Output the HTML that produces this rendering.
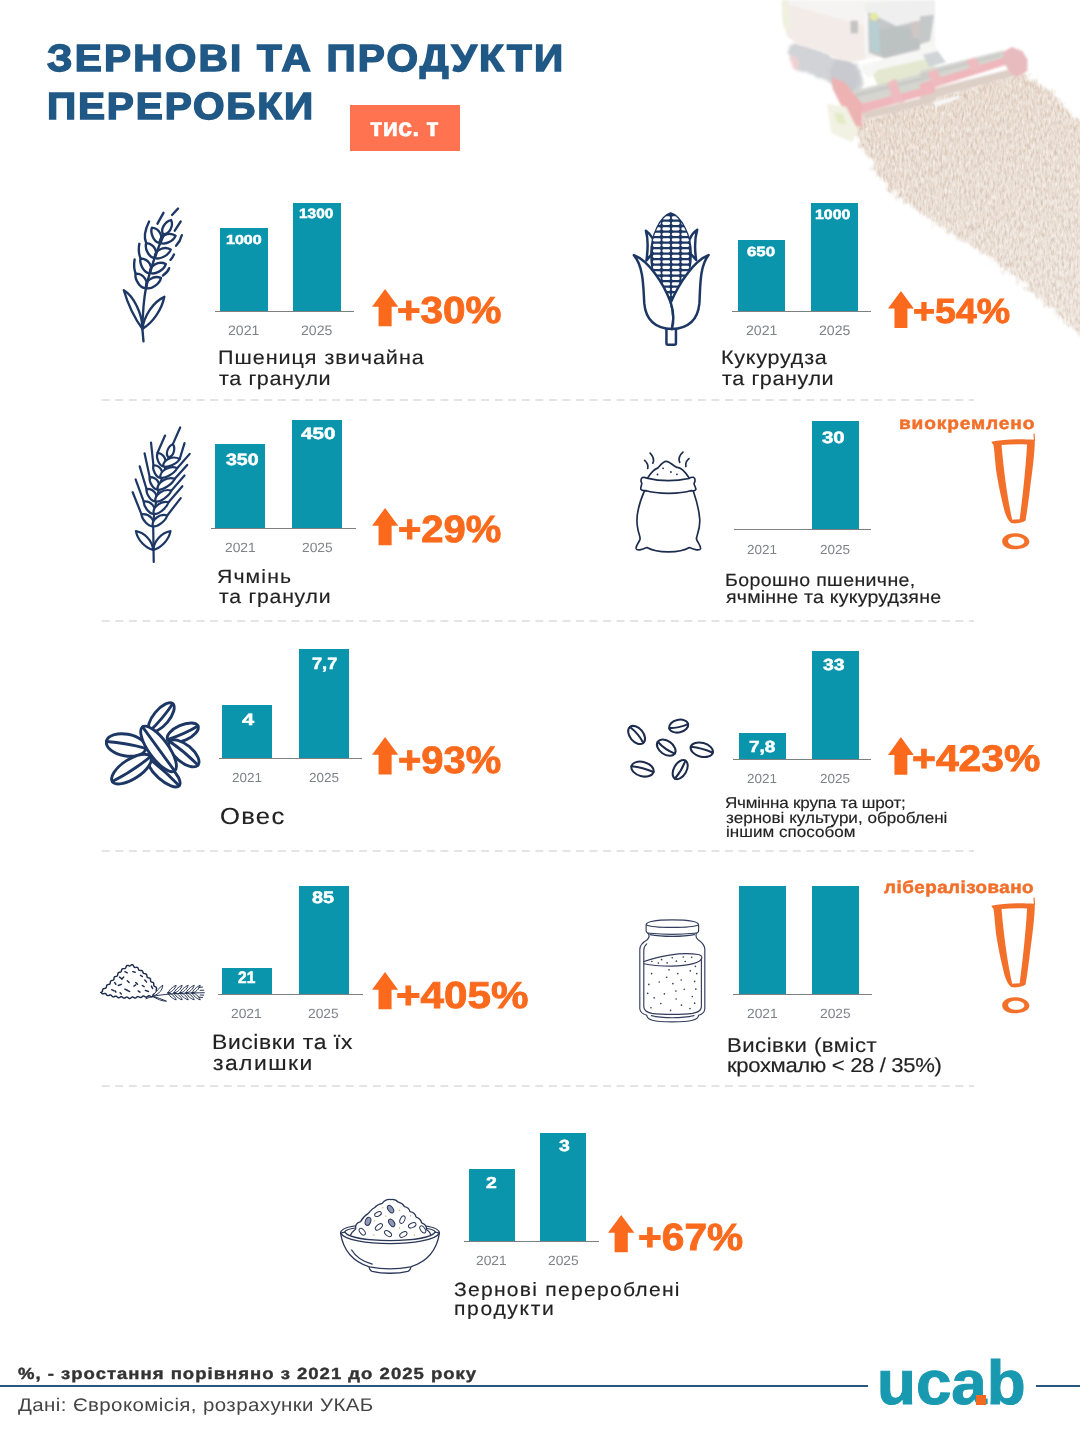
<!DOCTYPE html>
<html lang="uk">
<head>
<meta charset="utf-8">
<title>Зернові та продукти переробки</title>
<meta name="viewport" content="width=1080">
<style>
*{box-sizing:border-box;margin:0;padding:0}
html,body{width:1080px;height:1435px;background:#fff;overflow:hidden}
body{font-family:"Liberation Sans",sans-serif;position:relative;color:#222222}
#page{position:relative;width:1080px;height:1435px;overflow:hidden;background:#fff}
header,main,footer,section,h1,.plot,.growth,.label,aside{position:static;display:block;font-weight:normal;font-size:0}
.t{position:absolute;display:block;white-space:nowrap;line-height:1;transform-origin:0 0;font-weight:400;text-rendering:geometricPrecision}
svg{position:absolute;overflow:visible}
.h1{color:#205886;font-weight:700}
.badge{position:absolute;background:#ff7350}
.badge-t{color:#fff;font-weight:700}
.bar{position:absolute;background:#0b95ac}
.axis{position:absolute;height:1px;background:#7f7f7f}
.val{color:#fff;font-weight:700}
.yr{color:#7f8388}
.lbl{color:#222222}
.pct{color:#fb6a1c;font-weight:700}
.note-t{color:#f26f2a;font-weight:700}
.foot1{color:#333;font-weight:700}
.foot2{color:#444}
.rule{position:absolute;background:#2b5680}
.logo-t{color:#1899b0;font-weight:700}
.logo-dot{position:absolute;display:block;background:#f26a21}
</style>
</head>
<body>
<div id="page">
<svg class="photo" style="left:0;top:0" width="1120" height="400" viewBox="0 0 1120 400" role="img" aria-label="комбайн у полі"><defs><filter id="field" x="-5%" y="-5%" width="110%" height="110%" color-interpolation-filters="sRGB"><feTurbulence type="fractalNoise" baseFrequency="0.16" numOctaves="3" seed="3" result="n"/><feDisplacementMap in="SourceGraphic" in2="n" scale="16" xChannelSelector="R" yChannelSelector="G" result="d"/><feGaussianBlur in="d" stdDeviation="1.8" result="base"/><feTurbulence type="fractalNoise" baseFrequency="0.42 0.16" numOctaves="2" seed="8" result="t1"/><feColorMatrix in="t1" type="matrix" values="0 0 0 0 0.78  0 0 0 0 0.70  0 0 0 0 0.63  1.4 0 0 0 -0.56" result="dark0"/><feGaussianBlur in="dark0" stdDeviation="0.5" result="dark"/><feTurbulence type="fractalNoise" baseFrequency="0.45 0.18" numOctaves="2" seed="21" result="t2"/><feColorMatrix in="t2" type="matrix" values="0 0 0 0 1  0 0 0 0 0.99  0 0 0 0 0.97  0 1.3 0 0 -0.52" result="light0"/><feGaussianBlur in="light0" stdDeviation="0.5" result="light"/><feMerge result="tex"><feMergeNode in="base"/><feMergeNode in="dark"/><feMergeNode in="light"/></feMerge><feComposite in="tex" in2="base" operator="in"/></filter><filter id="soft" x="-5%" y="-5%" width="110%" height="110%"><feGaussianBlur stdDeviation="0.9"/></filter><filter id="soft2" x="-10%" y="-10%" width="120%" height="120%"><feTurbulence type="fractalNoise" baseFrequency="0.2" numOctaves="1" seed="5" result="n"/><feDisplacementMap in="SourceGraphic" in2="n" scale="5" xChannelSelector="R" yChannelSelector="G" result="d"/><feGaussianBlur in="d" stdDeviation="1.6"/></filter><linearGradient id="fieldg" gradientUnits="userSpaceOnUse" x1="930" y1="80" x2="1010" y2="330"><stop offset="0" stop-color="#e8dacd"/><stop offset="0.4" stop-color="#ebdfd5"/><stop offset="1" stop-color="#eee5de"/></linearGradient></defs><g filter="url(#field)"><polygon fill="url(#fieldg)" points="852,122 880,113 920,100 960,90 1009,74 1028,73 1045,88 1062,103 1080,120 1110,148 1110,362 1080,336 1043,303 990,258 931,222 886,187 860,146"/></g><g filter="url(#soft2)"><polygon fill="#d1d3d7" points="788.3,45.9 798.7,42.2 823.9,51.9 838.7,59.3 858.0,63.7 863.9,83.0 858.0,96.3 841.7,94.8 831.3,83.0 819.4,77.0 795.7,69.6 789.1,59.3"/><ellipse fill="#c8cacf" cx="844.6" cy="76.3" rx="14.1" ry="18.5" transform="rotate(-15 844.6 76.3)"/><polygon fill="#f0d0d0" points="789.8,54.8 797.2,57.8 798.7,69.6 792.8,68.1"/></g><g filter="url(#soft)"><polygon fill="#f5f4f3" points="782.4,0.0 935.0,0.0 935.0,48.9 863.9,59.3 863.9,25.2 791.3,5.9 783.9,8.9"/><polygon fill="#f3ebe7" points="783.1,5.9 791.3,5.2 863.9,25.2 865.4,59.3 852.0,62.2 837.2,59.3 823.9,51.9 797.2,44.4 786.9,35.6 783.9,20.7"/><polygon fill="#f0f0e0" points="781.7,0.0 788.3,0.0 791.3,22.2 786.9,34.1 782.4,22.2"/><polygon fill="#efefef" points="863.9,3.0 935.0,0.0 935.0,14.1 932.0,16.3 898.0,25.5 865.4,11.9"/><polygon fill="#c4c8c8" points="867.6,11.9 896.5,25.9 924.6,19.3 923.1,48.9 884.6,58.5 868.3,52.6"/><polygon fill="#bcc1c1" points="878.7,29.6 898.0,26.7 917.2,29.6 920.2,47.4 884.6,57.8 879.4,51.9"/><polygon fill="#cfc7c6" points="910.6,22.2 924.6,20.0 923.9,37.0 912.8,38.5"/><polygon fill="#b7cfd2" points="869.8,20.7 878.7,22.2 880.5,51.9 871.3,51.1"/><ellipse fill="#e4e9a6" cx="874.0" cy="16.6" rx="4.4" ry="4.0"/><polygon fill="#f6f6f6" points="863.9,11.9 868.0,11.9 868.6,53.3 864.8,53.3"/><polygon fill="#c4c4c4" points="850.6,20.7 858.0,20.7 858.0,33.3 850.6,33.3"/><polygon fill="#c4c8c8" points="920.0,16.3 934.1,14.8 928.9,48.9 920.0,51.1"/><polygon fill="#efefef" points="920.0,3.0 931.9,4.4 934.8,14.1 920.0,16.3"/><polygon fill="#e4e8d0" points="871.3,71.1 923.1,57.8 935.0,57.0 935.0,71.1 878.7,87.4"/><polygon fill="#e4e8d0" points="920.0,59.3 928.9,57.8 937.8,71.1 920.0,74.1"/><polygon fill="#f6f6f4" points="860.2,65.2 923.1,49.6 935.0,45.9 935.0,57.0 878.7,69.6 869.8,77.8 863.9,74.1"/><polygon fill="#f6f6f4" points="920.0,44.4 933.3,40.0 937.8,50.4 920.0,57.0"/><polygon fill="#d0d4d7" points="923.0,54.8 937.8,51.1 945.9,62.2 928.9,66.7"/><polygon fill="#d5d6d0" points="849.1,91.9 935.0,70.4 935.0,85.2 858.0,104.4"/><polygon fill="#d5d6d0" points="920.0,71.1 1003.0,50.4 1008.9,59.3 920.0,84.4"/><polygon fill="#c8c9c5" points="852.0,94.8 935.0,74.1 935.0,77.0 853.5,97.8"/><polygon fill="#c8c9c5" points="920.0,74.1 1000.0,54.1 1000.7,56.3 920.0,77.0"/><polygon fill="#dccfc6" points="862.4,112.6 935.0,94.8 935.0,102.2 863.9,120.0"/><polygon fill="#dccfc6" points="920.0,91.9 1014.8,68.1 1016.3,75.6 920.0,102.2"/><polygon fill="#efb6bb" points="858.0,104.4 935.0,84.7 935.0,92.6 861.7,112.9"/><polygon fill="#efb6bb" points="920.0,83.7 1008.9,56.0 1011.9,63.0 920.0,92.1"/><polygon fill="#edb3b3" points="831.3,77.0 844.6,82.2 862.4,103.7 862.4,127.4 852.0,124.4 840.2,103.7 832.8,88.9"/><polygon fill="#e8bbbf" points="1003.0,51.9 1011.9,47.1 1022.2,51.1 1027.4,59.3 1027.4,71.1 1016.3,77.8 1008.9,71.1 1003.7,62.2"/><polygon fill="#eebcc0" points="887.6,83.0 895.7,78.5 903.9,102.2 893.5,103.7"/><polygon fill="#eebcc0" points="927.4,72.6 936.3,68.9 945.2,83.0 933.3,85.9"/><polygon fill="#eebcc0" points="965.9,60.7 974.8,57.5 983.7,68.9 971.9,71.1"/><polygon fill="#f2f2e4" points="826.9,103.7 846.1,106.7 858.0,130.4 852.0,142.2 831.3,133.3"/><polygon fill="#e3ebc6" points="834.3,112.6 843.1,114.1 846.1,124.4 837.2,123.0"/><polygon fill="#f8f8f8" points="931.9,102.2 958.5,95.6 959.3,98.5 936.3,106.7"/></g></svg>
<header>
<h1>
<span class="t h1" style="left:46.64px;top:41px;font-size:37.9px;transform:scaleX(1.0700);letter-spacing:2.093px;-webkit-text-stroke-width:1.5px">ЗЕРНОВІ ТА ПРОДУКТИ</span>
<span class="t h1" style="left:46.71px;top:89px;font-size:37.9px;transform:scaleX(1.0700);letter-spacing:1.720px;-webkit-text-stroke-width:1.5px">ПЕРЕРОБКИ</span>
</h1>
<div class="badge" style="left:350px;top:105.3px;width:110.3px;height:46.1px">
<span class="t badge-t" style="left:19.61px;top:11px;font-size:25.6px;transform:scaleX(0.9926);-webkit-text-stroke-width:0.5px">тис. т</span>
</div>
</header>
<main>
<section class="chart" id="wheat">
<svg class="icon" style="left:110px;top:195px" width="100" height="155" viewBox="0 0 926 1435" role="img" aria-label="пшениця"><g fill="none" stroke="#1d3765" stroke-width="22" stroke-linecap="round" stroke-linejoin="round"><path d="M310,1355 L300,1240 C303,1080 315,950 335,850 C370,690 430,520 500,365"/><path d="M300,1240 C235,1150 165,1010 128,882 C215,935 300,1090 300,1240Z"/><path d="M300,1240 C315,1120 400,990 503,943 C480,1060 400,1180 300,1240Z"/><path fill="none" d="M328.0,862.0 C365.6,807.1 311.0,726.7 237.0,728.0 C226.7,784.0 281.3,864.4 328.0,862.0Z"/><path fill="none" d="M366.0,722.0 C406.3,669.3 356.5,588.9 283.0,588.0 C269.7,642.6 319.5,723.0 366.0,722.0Z"/><path fill="none" d="M410.0,582.0 C453.1,531.7 408.1,449.5 335.0,445.0 C318.7,498.5 363.7,580.7 410.0,582.0Z"/><path fill="none" d="M456.0,442.0 C501.6,393.9 460.8,309.9 388.0,302.0 C369.0,354.5 409.8,438.5 456.0,442.0Z"/><path fill="none" d="M335.0,860.0 C377.8,879.4 460.0,824.2 472.0,768.0 C403.2,739.5 321.0,794.7 335.0,860.0Z"/><path fill="none" d="M372.0,720.0 C413.1,743.0 500.1,695.0 517.0,640.0 C450.8,605.7 363.8,653.7 372.0,720.0Z"/><path fill="none" d="M416.0,580.0 C456.2,604.3 543.8,559.3 562.0,505.0 C497.2,468.6 409.6,513.6 416.0,580.0Z"/><path fill="none" d="M462.0,440.0 C499.5,467.5 586.5,430.3 607.0,378.0 C546.4,336.5 459.4,373.7 462.0,440.0Z"/><path fill="none" d="M492.0,362.0 C546.6,367.2 591.0,289.2 566.0,232.0 C508.4,242.2 464.0,320.2 492.0,362.0Z"/><path d="M237,728 C224,690 220,640 228,597"/><path d="M283,588 C268,550 262,500 272,452"/><path d="M335,445 C315,400 325,320 362,245"/><path d="M440,265 L495,165"/><path d="M575,185 L630,125"/><path d="M600,330 L655,245"/><path d="M612,470 C640,440 655,410 665,372"/><path d="M560,600 C575,585 585,570 592,550"/><path d="M490,745 C520,725 540,700 548,678"/></g></svg>
<div class="plot">
<div class="bar" style="left:220.10px;top:228.10px;width:47.60px;height:82.90px"></div>
<div class="bar" style="left:293.40px;top:202.50px;width:47.50px;height:108.50px"></div>
<span class="t val" style="left:226.49px;top:233px;font-size:13.0px;transform:scaleX(1.2360);-webkit-text-stroke-width:0.5px">1000</span>
<span class="t val" style="left:298.53px;top:207px;font-size:13.6px;transform:scaleX(1.1331);-webkit-text-stroke-width:0.5px">1300</span>
<div class="axis" style="left:214.80px;top:310.50px;width:139.20px"></div>
<span class="t yr" style="left:228.18px;top:324px;font-size:13.7px;transform:scaleX(1.0300)">2021</span>
<span class="t yr" style="left:301.39px;top:324px;font-size:13.7px;transform:scaleX(1.0300)">2025</span>
</div>
<p class="label">
<span class="t lbl" style="left:217.55px;top:349px;font-size:19.6px;transform:scaleX(1.1000);letter-spacing:0.879px;-webkit-text-stroke-width:0.15px">Пшениця звичайна</span>
<span class="t lbl" style="left:218.95px;top:370px;font-size:19.6px;transform:scaleX(1.1000);letter-spacing:0.541px;-webkit-text-stroke-width:0.15px">та гранули</span>
</p>
<div class="growth">
<svg class="arrow" style="left:371.50px;top:289.10px" width="26.20" height="37.30" viewBox="0 0 26.20 37.30"><polygon points="13.10,0 26.20,17.72 19.65,17.72 19.65,37.30 6.55,37.30 6.55,17.72 0,17.72" fill="#fb6a1c"/></svg>
<span class="t pct" style="left:396.93px;top:292px;font-size:37.7px;transform:scaleX(1.0720);-webkit-text-stroke-width:0.9px">+30%</span>
</div>
</section>
<section class="chart" id="corn">
<svg class="icon" style="left:620px;top:200px" width="100" height="155" viewBox="0 0 926 1435" role="img" aria-label="кукурудза"><defs><clipPath id="cobclip"><path d="M470,125 C380,150 290,330 290,500 C290,700 380,900 470,960 C560,900 655,700 655,500 C655,330 560,150 470,125Z"/></clipPath></defs><g fill="none" stroke="#1d3765" stroke-width="23" stroke-linecap="round" stroke-linejoin="round"><path fill="#fff" d="M240,285 C300,330 330,400 320,470 L245,560 C260,450 265,370 240,285Z"/><path fill="#fff" d="M715,275 C650,320 620,400 630,470 L705,555 C690,450 690,360 715,275Z"/><path fill="#1d3765" d="M470,125 C380,150 290,330 290,500 C290,700 380,900 470,960 C560,900 655,700 655,500 C655,330 560,150 470,125Z"/></g><g clip-path="url(#cobclip)" fill="#fff"><rect x="305" y="150" width="72" height="30" rx="13"/><rect x="392" y="150" width="72" height="30" rx="13"/><rect x="480" y="150" width="72" height="30" rx="13"/><rect x="568" y="150" width="72" height="30" rx="13"/><rect x="305" y="201" width="72" height="30" rx="13"/><rect x="392" y="201" width="72" height="30" rx="13"/><rect x="480" y="201" width="72" height="30" rx="13"/><rect x="568" y="201" width="72" height="30" rx="13"/><rect x="305" y="252" width="72" height="30" rx="13"/><rect x="392" y="252" width="72" height="30" rx="13"/><rect x="480" y="252" width="72" height="30" rx="13"/><rect x="568" y="252" width="72" height="30" rx="13"/><rect x="305" y="303" width="72" height="30" rx="13"/><rect x="392" y="303" width="72" height="30" rx="13"/><rect x="480" y="303" width="72" height="30" rx="13"/><rect x="568" y="303" width="72" height="30" rx="13"/><rect x="305" y="354" width="72" height="30" rx="13"/><rect x="392" y="354" width="72" height="30" rx="13"/><rect x="480" y="354" width="72" height="30" rx="13"/><rect x="568" y="354" width="72" height="30" rx="13"/><rect x="305" y="405" width="72" height="30" rx="13"/><rect x="392" y="405" width="72" height="30" rx="13"/><rect x="480" y="405" width="72" height="30" rx="13"/><rect x="568" y="405" width="72" height="30" rx="13"/><rect x="305" y="456" width="72" height="30" rx="13"/><rect x="392" y="456" width="72" height="30" rx="13"/><rect x="480" y="456" width="72" height="30" rx="13"/><rect x="568" y="456" width="72" height="30" rx="13"/><rect x="305" y="507" width="72" height="30" rx="13"/><rect x="392" y="507" width="72" height="30" rx="13"/><rect x="480" y="507" width="72" height="30" rx="13"/><rect x="568" y="507" width="72" height="30" rx="13"/><rect x="305" y="558" width="72" height="30" rx="13"/><rect x="392" y="558" width="72" height="30" rx="13"/><rect x="480" y="558" width="72" height="30" rx="13"/><rect x="568" y="558" width="72" height="30" rx="13"/><rect x="305" y="609" width="72" height="30" rx="13"/><rect x="392" y="609" width="72" height="30" rx="13"/><rect x="480" y="609" width="72" height="30" rx="13"/><rect x="568" y="609" width="72" height="30" rx="13"/><rect x="305" y="660" width="72" height="30" rx="13"/><rect x="392" y="660" width="72" height="30" rx="13"/><rect x="480" y="660" width="72" height="30" rx="13"/><rect x="568" y="660" width="72" height="30" rx="13"/><rect x="305" y="711" width="72" height="30" rx="13"/><rect x="392" y="711" width="72" height="30" rx="13"/><rect x="480" y="711" width="72" height="30" rx="13"/><rect x="568" y="711" width="72" height="30" rx="13"/><rect x="305" y="762" width="72" height="30" rx="13"/><rect x="392" y="762" width="72" height="30" rx="13"/><rect x="480" y="762" width="72" height="30" rx="13"/><rect x="568" y="762" width="72" height="30" rx="13"/><rect x="305" y="813" width="72" height="30" rx="13"/><rect x="392" y="813" width="72" height="30" rx="13"/><rect x="480" y="813" width="72" height="30" rx="13"/><rect x="568" y="813" width="72" height="30" rx="13"/><rect x="305" y="864" width="72" height="30" rx="13"/><rect x="392" y="864" width="72" height="30" rx="13"/><rect x="480" y="864" width="72" height="30" rx="13"/><rect x="568" y="864" width="72" height="30" rx="13"/><rect x="305" y="915" width="72" height="30" rx="13"/><rect x="392" y="915" width="72" height="30" rx="13"/><rect x="480" y="915" width="72" height="30" rx="13"/><rect x="568" y="915" width="72" height="30" rx="13"/></g><g fill="#fff" stroke="#1d3765" stroke-width="23" stroke-linecap="round" stroke-linejoin="round"><rect x="430" y="1180" width="88" height="160" rx="14"/><path d="M128,510 C260,560 400,760 470,950 C500,1040 500,1120 480,1195 C330,1190 240,1110 225,960 C215,800 220,620 128,510Z"/><path d="M820,510 C690,560 550,760 470,950 C500,1040 500,1120 480,1195 C630,1190 720,1110 735,960 C745,800 735,620 820,510Z"/></g></svg>
<div class="plot">
<div class="bar" style="left:737.50px;top:240.30px;width:47.50px;height:70.70px"></div>
<div class="bar" style="left:810.70px;top:202.60px;width:47.40px;height:108.40px"></div>
<span class="t val" style="left:747.26px;top:245px;font-size:13.4px;transform:scaleX(1.2568);-webkit-text-stroke-width:0.5px">650</span>
<span class="t val" style="left:815.29px;top:208px;font-size:13.6px;transform:scaleX(1.1711);-webkit-text-stroke-width:0.5px">1000</span>
<div class="axis" style="left:732.00px;top:310.50px;width:139.40px"></div>
<span class="t yr" style="left:745.53px;top:324px;font-size:13.7px;transform:scaleX(1.0300)">2021</span>
<span class="t yr" style="left:818.64px;top:324px;font-size:13.7px;transform:scaleX(1.0300)">2025</span>
</div>
<p class="label">
<span class="t lbl" style="left:721.05px;top:349px;font-size:19.6px;transform:scaleX(1.1000);letter-spacing:0.679px;-webkit-text-stroke-width:0.15px">Кукурудза</span>
<span class="t lbl" style="left:722.45px;top:370px;font-size:19.6px;transform:scaleX(1.1000);letter-spacing:0.541px;-webkit-text-stroke-width:0.15px">та гранули</span>
</p>
<div class="growth">
<svg class="arrow" style="left:887.50px;top:290.60px" width="25.90" height="37.10" viewBox="0 0 25.90 37.10"><polygon points="12.95,0 25.90,17.62 19.42,17.62 19.42,37.10 6.47,37.10 6.47,17.62 0,17.62" fill="#fb6a1c"/></svg>
<span class="t pct" style="left:912.95px;top:294px;font-size:35.0px;transform:scaleX(1.0731);-webkit-text-stroke-width:0.9px">+54%</span>
</div>
</section>
<svg class="dash" style="left:0;top:397.50px" width="1080" height="4" viewBox="0 0 1080 4"><line x1="101.7" y1="2" x2="974" y2="2" stroke="#c9c9c9" stroke-width="1.1" stroke-dasharray="8 5.55"/></svg>
<section class="chart" id="barley">
<svg class="icon" style="left:110px;top:415px" width="100" height="155" viewBox="0 0 926 1435" role="img" aria-label="ячмінь"><g fill="none" stroke="#1d3765" stroke-width="20.5" stroke-linecap="round" stroke-linejoin="round"><path d="M405,1360 L400,1030 C405,900 430,760 470,620 C500,520 530,440 545,395"/><path d="M400,1250 C330,1230 255,1160 240,1075 C320,1090 390,1160 400,1250Z"/><path d="M400,1250 C410,1160 480,1090 560,1075 C545,1160 470,1230 400,1250Z"/><path d="M292,920 L210,715"/><path d="M312,800 L237,597"/><path d="M338,685 L275,475"/><path d="M368,575 L320,355"/><path d="M402,465 L380,255"/><path d="M440,350 L510,190"/><path d="M530,930 L655,770"/><path d="M542,808 L670,660"/><path d="M568,700 L690,560"/><path d="M600,590 L715,462"/><path d="M622,492 L738,360"/><path d="M645,408 L690,260"/><path fill="#fff" d="M397.0,1030.0 C423.2,973.5 360.2,907.5 292.0,920.0 C295.1,969.6 358.1,1035.6 397.0,1030.0Z"/><path fill="#fff" d="M405.0,915.0 C436.1,861.3 380.3,792.3 312.0,800.0 C310.4,848.9 366.2,917.9 405.0,915.0Z"/><path fill="#fff" d="M420.0,800.0 C454.9,749.1 405.7,680.1 338.0,685.0 C332.4,732.3 381.6,801.3 420.0,800.0Z"/><path fill="#fff" d="M440.0,690.0 C478.4,642.0 435.2,573.0 368.0,575.0 C358.9,620.7 402.1,689.7 440.0,690.0Z"/><path fill="#fff" d="M465.0,580.0 C506.4,534.9 468.6,465.9 402.0,465.0 C389.7,509.1 427.5,578.1 465.0,580.0Z"/><path fill="#fff" d="M492.0,475.0 C537.8,434.0 506.6,359.0 440.0,350.0 C423.5,393.5 454.7,468.5 492.0,475.0Z"/><path fill="#fff" d="M397.0,1030.0 C436.2,1040.6 516.0,980.6 530.0,930.0 C461.9,908.6 382.1,968.6 397.0,1030.0Z"/><path fill="#fff" d="M405.0,915.0 C445.2,924.2 527.4,860.0 542.0,808.0 C472.0,789.0 389.8,853.2 405.0,915.0Z"/><path fill="#fff" d="M420.0,800.0 C460.1,811.5 548.9,751.5 568.0,700.0 C498.5,676.9 409.7,736.9 420.0,800.0Z"/><path fill="#fff" d="M440.0,690.0 C481.0,702.1 577.0,642.1 600.0,590.0 C529.3,565.8 433.3,625.8 440.0,690.0Z"/><path fill="#fff" d="M465.0,580.0 C504.2,594.7 598.4,541.9 622.0,492.0 C554.4,463.4 460.2,516.2 465.0,580.0Z"/><path fill="#fff" d="M492.0,475.0 C527.8,494.3 619.6,454.1 645.0,408.0 C583.5,371.6 491.7,411.8 492.0,475.0Z"/><path fill="#fff" d="M540.0,392.0 C586.0,387.4 611.2,314.2 582.0,270.0 C535.6,288.1 510.4,361.3 540.0,392.0Z"/><path d="M582,270 L650,115"/></g></svg>
<div class="plot">
<div class="bar" style="left:214.80px;top:444.20px;width:50.40px;height:83.80px"></div>
<div class="bar" style="left:291.90px;top:419.90px;width:50.30px;height:108.10px"></div>
<span class="t val" style="left:225.96px;top:452px;font-size:16.4px;transform:scaleX(1.1913);-webkit-text-stroke-width:0.5px">350</span>
<span class="t val" style="left:301.24px;top:426px;font-size:16.4px;transform:scaleX(1.2555);-webkit-text-stroke-width:0.5px">450</span>
<div class="axis" style="left:211.30px;top:527.50px;width:144.30px"></div>
<span class="t yr" style="left:224.62px;top:541px;font-size:13.4px;transform:scaleX(1.0300)">2021</span>
<span class="t yr" style="left:301.64px;top:541px;font-size:13.4px;transform:scaleX(1.0300)">2025</span>
</div>
<p class="label">
<span class="t lbl" style="left:217.22px;top:568px;font-size:19.3px;transform:scaleX(1.1000);letter-spacing:1.016px;-webkit-text-stroke-width:0.15px">Ячмінь</span>
<span class="t lbl" style="left:218.96px;top:588px;font-size:19.3px;transform:scaleX(1.1000);letter-spacing:0.703px;-webkit-text-stroke-width:0.15px">та гранули</span>
</p>
<div class="growth">
<svg class="arrow" style="left:371.50px;top:507.70px" width="26.20" height="37.20" viewBox="0 0 26.20 37.20"><polygon points="13.10,0 26.20,17.67 19.65,17.67 19.65,37.20 6.55,37.20 6.55,17.67 0,17.67" fill="#fb6a1c"/></svg>
<span class="t pct" style="left:398.25px;top:512px;font-size:37.9px;transform:scaleX(1.0549);-webkit-text-stroke-width:0.9px">+29%</span>
</div>
</section>
<section class="chart" id="flour">
<svg class="icon" style="left:620px;top:435px" width="100" height="130" viewBox="0 0 1080 1404" role="img" aria-label="борошно"><g fill="#fff" stroke="#1d2c4c" stroke-width="18" stroke-linecap="round" stroke-linejoin="round"><path d="M265,600 C200,750 170,900 190,1000 C200,1070 225,1105 215,1130 C200,1170 165,1200 175,1228 C185,1252 235,1240 290,1215 C400,1275 640,1280 750,1215 C805,1240 860,1252 870,1228 C878,1200 835,1160 825,1120 C830,1080 872,1000 860,900 C850,770 810,660 790,600Z"/><path d="M300,460 C340,400 380,365 410,355 C440,320 470,280 505,285 C540,290 570,330 615,350 C665,345 705,400 745,462 L745,540 L300,540Z"/><path d="M240,460 C225,470 222,500 235,520 C235,550 218,570 225,587 C240,607 260,602 275,600 C400,640 650,640 770,600 C790,606 815,602 820,586 C815,560 800,540 800,520 C815,500 815,470 795,458 C780,453 760,460 745,470 C600,500 430,500 290,466 C270,455 255,455 240,460Z"/><path fill="none" d="M325,195 C360,230 370,270 355,305"/><path fill="none" d="M265,275 C295,300 305,330 300,360"/><path fill="none" d="M680,185 C640,220 630,260 645,295"/><path fill="none" d="M745,255 C715,280 705,310 712,340"/></g><g fill="#1d2c4c"><circle cx="465" cy="360" r="10"/><circle cx="405" cy="427" r="10"/><circle cx="550" cy="400" r="10"/><circle cx="615" cy="425" r="10"/></g></svg>
<div class="plot">
<div class="bar" style="left:812.10px;top:421.30px;width:46.90px;height:108.20px"></div>
<span class="t val" style="left:822.04px;top:430px;font-size:16.5px;transform:scaleX(1.2338);-webkit-text-stroke-width:0.5px">30</span>
<div class="axis" style="left:733.50px;top:529.00px;width:137.80px"></div>
<span class="t yr" style="left:747.47px;top:543px;font-size:13.1px;transform:scaleX(1.0300)">2021</span>
<span class="t yr" style="left:820.48px;top:543px;font-size:13.1px;transform:scaleX(1.0300)">2025</span>
</div>
<p class="label">
<span class="t lbl" style="left:725.11px;top:572px;font-size:17.8px;transform:scaleX(1.1000);letter-spacing:0.328px;-webkit-text-stroke-width:0.15px">Борошно пшеничне,</span>
<span class="t lbl" style="left:726.08px;top:589px;font-size:17.8px;transform:scaleX(1.1000);letter-spacing:0.180px;-webkit-text-stroke-width:0.15px">ячмінне та кукурудзяне</span>
</p>
<aside class="note"><span class="t note-t" style="left:899.41px;top:415px;font-size:17.4px;transform:scaleX(1.1000);letter-spacing:0.780px;-webkit-text-stroke-width:0.5px">виокремлено</span><svg class="bang" style="left:980.00px;top:430.00px" width="65" height="130" viewBox="0 0 718 1435" role="img" aria-label="!"><g fill="#f3702b" fill-rule="evenodd"><path d="M125,128 C250,100 450,95 600,108 L606,135 C600,300 572,500 546,700 C531,820 516,920 503,1000 C460,1030 400,1036 345,1028 C318,1008 290,960 272,900 C240,770 200,600 176,430 C165,330 160,240 150,168Z M238,166 C330,156 430,153 520,159 C506,400 476,700 438,985 L356,992 C312,800 266,500 238,166Z"/><path d="M590,42 L603,38 L609,120 L596,124Z"/><path d="M390,1140 C480,1140 545,1185 545,1235 C545,1285 470,1318 385,1318 C300,1318 245,1280 245,1228 C245,1178 305,1140 390,1140Z M395,1178 C345,1178 310,1198 310,1225 C310,1255 350,1278 400,1278 C450,1278 490,1258 490,1230 C490,1200 448,1178 395,1178Z"/></g></svg></aside>
</section>
<svg class="dash" style="left:0;top:619.00px" width="1080" height="4" viewBox="0 0 1080 4"><line x1="101.7" y1="2" x2="974" y2="2" stroke="#c9c9c9" stroke-width="1.1" stroke-dasharray="8 5.55"/></svg>
<section class="chart" id="oats">
<svg class="icon" style="left:95px;top:690px" width="120" height="110" viewBox="0 0 1080 990" role="img" aria-label="овес"><g fill="#fff" stroke="#1d3765" stroke-width="26" stroke-linecap="round" stroke-linejoin="round"><g transform="translate(597,246) rotate(-50)"><ellipse cx="0" cy="0" rx="160" ry="70" fill="#fff"/><path d="M-160,0 Q0,17.5 160,0"/></g><g transform="translate(790,385) rotate(-24)"><ellipse cx="0" cy="0" rx="150" ry="70" fill="#fff"/><path d="M-150,0 Q0,17.5 150,0"/></g><g transform="translate(280,495) rotate(10)"><ellipse cx="0" cy="0" rx="180" ry="98" fill="#fff"/><path d="M-180,0 Q0,-19.6 180,0"/></g><g transform="translate(800,570) rotate(40)"><ellipse cx="0" cy="0" rx="165" ry="78" fill="#fff"/><path d="M-165,0 Q0,-15.600000000000001 165,0"/></g><g transform="translate(620,738) rotate(42)"><ellipse cx="0" cy="0" rx="185" ry="72" fill="#fff"/><path d="M-185,0 Q0,-14.4 185,0"/></g><g transform="translate(328,712) rotate(-33)"><ellipse cx="0" cy="0" rx="205" ry="88" fill="#fff"/><path d="M-205,0 Q0,22.0 205,0"/></g><g transform="translate(572,530) rotate(54)"><ellipse cx="0" cy="0" rx="245" ry="88" fill="#fff"/><path d="M-245,0 Q0,0.0 245,0"/></g></g></svg>
<div class="plot">
<div class="bar" style="left:221.50px;top:704.90px;width:50.30px;height:53.10px"></div>
<div class="bar" style="left:298.90px;top:649.40px;width:50.00px;height:108.60px"></div>
<span class="t val" style="left:241.82px;top:712px;font-size:16.4px;transform:scaleX(1.3324);-webkit-text-stroke-width:0.5px">4</span>
<span class="t val" style="left:311.62px;top:656px;font-size:16.2px;transform:scaleX(1.1223);-webkit-text-stroke-width:0.5px">7,7</span>
<div class="axis" style="left:218.70px;top:757.50px;width:143.70px"></div>
<span class="t yr" style="left:231.62px;top:771px;font-size:13.1px;transform:scaleX(1.0300)">2021</span>
<span class="t yr" style="left:308.83px;top:771px;font-size:13.1px;transform:scaleX(1.0300)">2025</span>
</div>
<p class="label">
<span class="t lbl" style="left:220.22px;top:805px;font-size:23.3px;transform:scaleX(1.1000);letter-spacing:1.185px;-webkit-text-stroke-width:0.15px">Овес</span>
</p>
<div class="growth">
<svg class="arrow" style="left:371.50px;top:737.30px" width="26.20" height="37.40" viewBox="0 0 26.20 37.40"><polygon points="13.10,0 26.20,17.77 19.65,17.77 19.65,37.40 6.55,37.40 6.55,17.77 0,17.77" fill="#fb6a1c"/></svg>
<span class="t pct" style="left:398.25px;top:742px;font-size:38.1px;transform:scaleX(1.0493);-webkit-text-stroke-width:0.9px">+93%</span>
</div>
</section>
<section class="chart" id="groats">
<svg class="icon" style="left:615px;top:710px" width="110" height="80" viewBox="0 0 1080 785" role="img" aria-label="крупа"><g fill="#fff" stroke="#1d2c4c" stroke-width="20" stroke-linecap="round" stroke-linejoin="round"><g transform="translate(212,245) rotate(50)"><ellipse cx="0" cy="0" rx="102" ry="66" fill="#fff"/><path d="M-102,0 Q0,-23.099999999999998 102,0"/></g><g transform="translate(625,158) rotate(-12)"><ellipse cx="0" cy="0" rx="95" ry="62" fill="#fff"/><path d="M-95,0 Q0,18.599999999999998 95,0"/></g><g transform="translate(503,370) rotate(35)"><ellipse cx="0" cy="0" rx="102" ry="66" fill="#fff"/><path d="M-102,0 Q0,23.099999999999998 102,0"/></g><g transform="translate(852,390) rotate(15)"><ellipse cx="0" cy="0" rx="112" ry="68" fill="#fff"/><path d="M-112,0 Q0,-17.0 112,0"/></g><g transform="translate(270,580) rotate(15)"><ellipse cx="0" cy="0" rx="112" ry="70" fill="#fff"/><path d="M-112,0 Q0,-17.5 112,0"/></g><g transform="translate(640,585) rotate(-60)"><ellipse cx="0" cy="0" rx="102" ry="62" fill="#fff"/><path d="M-102,0 Q0,18.599999999999998 102,0"/></g></g></svg>
<div class="plot">
<div class="bar" style="left:738.60px;top:733.10px;width:47.50px;height:25.90px"></div>
<div class="bar" style="left:812.10px;top:650.80px;width:46.90px;height:108.20px"></div>
<span class="t val" style="left:748.79px;top:740px;font-size:16.0px;transform:scaleX(1.1896);-webkit-text-stroke-width:0.5px">7,8</span>
<span class="t val" style="left:823.16px;top:658px;font-size:16.0px;transform:scaleX(1.2072);-webkit-text-stroke-width:0.5px">33</span>
<div class="axis" style="left:733.30px;top:758.50px;width:137.50px"></div>
<span class="t yr" style="left:747.32px;top:772px;font-size:13.1px;transform:scaleX(1.0300)">2021</span>
<span class="t yr" style="left:820.48px;top:772px;font-size:13.1px;transform:scaleX(1.0300)">2025</span>
</div>
<p class="label">
<span class="t lbl" style="left:725.01px;top:796px;font-size:15.5px;transform:scaleX(1.1000);letter-spacing:-0.191px;-webkit-text-stroke-width:0.15px">Ячмінна крупа та шрот;</span>
<span class="t lbl" style="left:725.83px;top:811px;font-size:15.5px;transform:scaleX(1.1000);letter-spacing:0.011px;-webkit-text-stroke-width:0.15px">зернові культури, оброблені</span>
<span class="t lbl" style="left:725.57px;top:825px;font-size:15.5px;transform:scaleX(1.1000);letter-spacing:0.009px;-webkit-text-stroke-width:0.15px">іншим способом</span>
</p>
<div class="growth">
<svg class="arrow" style="left:887.60px;top:737.30px" width="25.80" height="37.70" viewBox="0 0 25.80 37.70"><polygon points="12.90,0 25.80,17.91 19.35,17.91 19.35,37.70 6.45,37.70 6.45,17.91 0,17.91" fill="#fb6a1c"/></svg>
<span class="t pct" style="left:911.81px;top:740px;font-size:37.1px;transform:scaleX(1.1027);-webkit-text-stroke-width:0.9px">+423%</span>
</div>
</section>
<svg class="dash" style="left:0;top:849.40px" width="1080" height="4" viewBox="0 0 1080 4"><line x1="101.7" y1="2" x2="974" y2="2" stroke="#c9c9c9" stroke-width="1.1" stroke-dasharray="8 5.55"/></svg>
<section class="chart" id="bran">
<svg class="icon" style="left:90px;top:950px" width="130" height="65" viewBox="0 0 1080 540" role="img" aria-label="висівки"><g fill="none" stroke="#1d2c4c" stroke-width="12" stroke-linecap="round" stroke-linejoin="round"><path fill="#fff" d="M88.0,352.0 L93.1,351.1 L97.4,349.6 L100.7,347.0 L102.8,343.1 L103.9,338.4 L104.6,333.2 L105.7,328.4 L107.8,324.5 L111.0,321.9 L115.4,320.3 L120.4,319.5 L125.5,318.6 L129.9,317.1 L133.2,314.5 L135.3,310.7 L136.4,305.9 L137.2,300.8 L138.2,296.0 L140.3,292.1 L143.5,289.4 L147.7,287.9 L152.6,286.9 L157.5,285.9 L161.8,284.3 L165.0,281.7 L167.1,278.0 L168.1,273.4 L168.6,268.4 L169.3,263.6 L170.9,259.4 L173.6,256.4 L177.5,254.4 L182.2,253.3 L187.2,252.3 L191.7,250.9 L195.3,248.7 L197.7,245.3 L198.9,241.0 L199.5,236.0 L200.1,231.1 L201.4,226.7 L203.7,223.3 L207.2,221.1 L211.6,219.7 L216.5,218.8 L221.2,217.6 L225.1,215.8 L227.9,213.0 L229.6,209.0 L230.4,204.3 L231.0,199.4 L231.8,194.7 L233.6,190.9 L236.5,188.1 L240.5,186.4 L245.3,185.3 L250.2,184.4 L254.5,182.9 L257.9,180.6 L260.1,177.1 L261.3,172.8 L261.9,167.8 L263.5,163.1 L265.7,159.2 L268.7,156.5 L272.7,155.1 L277.4,154.8 L282.5,154.8 L287.3,154.6 L291.5,153.5 L294.7,151.1 L297.0,147.4 L298.7,142.8 L300.3,138.1 L302.2,133.8 L304.9,130.6 L308.6,128.7 L313.1,128.1 L318.0,128.1 L322.2,130.7 L326.3,132.4 L330.3,132.7 L334.3,131.4 L338.1,128.8 L341.9,125.6 L345.8,122.7 L352.6,121.5 L356.2,123.5 L359.0,126.9 L361.3,131.3 L363.3,136.0 L365.6,140.2 L368.7,143.2 L372.6,144.7 L377.2,144.9 L382.3,144.4 L387.3,144.0 L391.8,144.4 L395.6,146.2 L398.5,149.4 L400.9,153.8 L402.4,158.5 L404.1,162.9 L406.5,166.4 L409.9,168.6 L414.1,169.6 L419.0,169.7 L423.9,169.7 L428.5,170.2 L432.3,171.7 L435.2,174.6 L437.3,178.6 L438.8,183.2 L440.4,187.9 L442.4,191.9 L445.3,194.7 L449.1,196.3 L453.4,196.5 L458.5,197.5 L463.4,198.8 L467.4,200.8 L470.1,204.0 L471.6,208.3 L472.3,213.4 L472.8,218.5 L474.0,223.2 L476.2,226.8 L479.8,229.2 L484.4,230.7 L489.5,231.8 L494.4,233.1 L498.4,235.2 L501.0,238.4 L502.7,243.0 L502.8,247.9 L502.8,252.9 L503.3,257.4 L505.0,261.2 L507.9,264.0 L511.9,266.0 L516.6,267.5 L521.3,269.1 L525.2,271.2 L528.0,274.1 L529.4,278.0 L529.9,282.6 L529.8,287.6 L530.0,292.4 L531.1,296.6 L533.3,299.9 L536.4,301.5 L540.6,304.3 L545.0,306.9 L548.9,309.7 L551.6,313.1 L552.7,317.2 L552.3,321.8 L551.2,326.8 L550.2,331.8 L550.1,336.4 L551.4,340.3 L555.0,339.3 L554.2,344.0 L553.7,349.0 L552.9,353.7 L551.2,357.6 L548.2,360.4 L544.2,362.2 L539.4,363.4 L534.5,364.4 L530.1,365.9 L526.8,368.3 L524.6,371.8 L523.6,376.3 L523.0,381.3 L520.2,387.2 L516.3,389.3 L512.3,389.8 L508.2,388.8 L504.1,386.6 L499.9,383.8 L495.8,381.4 L491.7,380.1 L487.7,380.3 L483.8,382.1 L479.9,385.0 L476.1,388.1 L472.2,390.7 L468.3,392.1 L464.2,391.8 L460.2,390.1 L456.0,387.4 L451.9,384.8 L447.8,382.8 L443.7,382.3 L439.6,383.4 L435.7,386.0 L431.9,389.4 L428.1,392.5 L424.2,394.7 L420.1,395.2 L415.9,394.1 L411.6,391.8 L407.2,389.2 L402.9,387.1 L398.8,386.3 L394.7,387.1 L390.8,389.5 L387.0,392.7 L383.2,396.0 L379.3,398.4 L375.3,399.4 L371.1,398.7 L366.8,396.6 L362.5,394.0 L358.2,391.7 L354.0,390.5 L349.9,390.9 L346.0,392.9 L342.1,396.1 L338.3,399.4 L334.5,402.1 L329.6,403.5 L325.6,402.5 L321.7,400.1 L317.8,396.8 L313.9,393.7 L310.0,391.5 L305.9,390.8 L301.8,391.8 L297.5,394.0 L293.2,396.7 L289.0,399.0 L284.8,400.1 L280.7,399.6 L276.8,397.5 L272.9,394.3 L269.1,391.1 L265.2,388.6 L261.1,387.5 L257.0,388.0 L252.8,390.0 L248.5,392.7 L244.2,395.2 L240.0,396.7 L235.9,396.5 L231.9,394.8 L228.1,391.9 L224.2,388.6 L220.9,385.9 L217.2,383.8 L213.1,383.3 L208.7,384.4 L204.0,386.3 L199.4,388.2 L194.9,389.4 L190.8,389.0 L187.0,387.1 L183.6,383.8 L180.2,380.0 L176.8,376.4 L173.2,374.0 L169.2,373.2 L164.8,373.9 L160.2,375.7 L155.5,377.8 L151.0,379.1 L146.8,379.2 L143.0,377.5 L139.1,374.4 L136.2,370.0 L133.2,365.7 L129.9,362.5 L125.9,360.9 L121.3,361.0 L116.2,362.2 L111.1,363.6 L106.3,364.2 L102.0,363.3 L98.4,360.7 L95.4,356.7 L92.5,352.2Z"/><path d="M290,180 L310,190"/><path d="M355,180 L375,185"/><path d="M245,225 L265,240"/><path d="M265,240 L280,225"/><path d="M420,210 L435,220"/><path d="M205,270 L215,285"/><path d="M310,255 L325,270"/><path d="M380,270 L395,285"/><path d="M455,250 L470,265"/><path d="M235,295 L260,285"/><path d="M365,300 L380,290"/><path d="M435,295 L450,305"/><path d="M510,300 L520,320"/><path d="M180,330 L200,340"/><path d="M290,325 L310,335"/><path d="M310,335 L330,345"/><path d="M400,340 L415,350"/><path d="M460,335 L485,345"/><path d="M250,355 L260,365"/><path d="M210,340 L215,350"/></g><g fill="none" stroke="#1d2c4c" stroke-width="8" stroke-linecap="round" stroke-linejoin="round"><path d="M520,385 C600,370 700,358 950,355"/><path fill="#fff" d="M520,385 C545,345 575,315 605,292 C600,330 580,365 520,385Z"/><path d="M520,385 C560,395 600,410 635,425 C600,425 560,410 520,385Z"/><path d="M465,405 C490,395 505,390 520,385"/><path fill="none" d="M648.0,357.0 C669.1,359.3 709.9,321.5 716.0,294.0 C690.8,300.9 650.0,338.7 648.0,357.0Z"/><path fill="none" d="M648.0,357.0 C650.5,374.7 691.3,408.9 716.0,414.0 C709.3,387.5 668.5,353.3 648.0,357.0Z"/><path fill="none" d="M698.0,357.0 C719.1,359.3 759.9,321.5 766.0,294.0 C740.8,300.9 700.0,338.7 698.0,357.0Z"/><path fill="none" d="M698.0,357.0 C700.5,374.7 741.3,408.9 766.0,414.0 C759.3,387.5 718.5,353.3 698.0,357.0Z"/><path fill="none" d="M748.0,357.0 C769.1,359.3 809.9,321.5 816.0,294.0 C790.8,300.9 750.0,338.7 748.0,357.0Z"/><path fill="none" d="M748.0,357.0 C750.5,374.7 791.3,408.9 816.0,414.0 C809.3,387.5 768.5,353.3 748.0,357.0Z"/><path fill="none" d="M798.0,357.0 C819.1,359.3 859.9,321.5 866.0,294.0 C840.8,300.9 800.0,338.7 798.0,357.0Z"/><path fill="none" d="M798.0,357.0 C800.5,374.7 841.3,408.9 866.0,414.0 C859.3,387.5 818.5,353.3 798.0,357.0Z"/><path fill="none" d="M848.0,357.0 C869.1,359.3 909.9,321.5 916.0,294.0 C890.8,300.9 850.0,338.7 848.0,357.0Z"/><path fill="none" d="M848.0,357.0 C850.5,374.7 891.3,408.9 916.0,414.0 C909.3,387.5 868.5,353.3 848.0,357.0Z"/><path d="M905,310 L935,308"/><path d="M915,335 L945,334"/><path d="M905,392 L935,394"/><path d="M915,374 L945,375"/></g></svg>
<div class="plot">
<div class="bar" style="left:221.80px;top:967.80px;width:50.00px;height:26.40px"></div>
<div class="bar" style="left:298.90px;top:885.80px;width:50.00px;height:108.40px"></div>
<span class="t val" style="left:237.58px;top:970px;font-size:16.7px;transform:scaleX(0.9298);-webkit-text-stroke-width:0.5px">21</span>
<span class="t val" style="left:311.75px;top:890px;font-size:16.8px;transform:scaleX(1.1835);-webkit-text-stroke-width:0.5px">85</span>
<div class="axis" style="left:218.30px;top:993.70px;width:144.80px"></div>
<span class="t yr" style="left:231.42px;top:1007px;font-size:13.4px;transform:scaleX(1.0300)">2021</span>
<span class="t yr" style="left:308.49px;top:1007px;font-size:13.4px;transform:scaleX(1.0300)">2025</span>
</div>
<p class="label">
<span class="t lbl" style="left:211.84px;top:1033px;font-size:20.8px;transform:scaleX(1.1000);letter-spacing:0.564px;-webkit-text-stroke-width:0.15px">Висівки та їх</span>
<span class="t lbl" style="left:213.22px;top:1054px;font-size:20.8px;transform:scaleX(1.1000);letter-spacing:1.316px;-webkit-text-stroke-width:0.15px">залишки</span>
</p>
<div class="growth">
<svg class="arrow" style="left:371.60px;top:972.30px" width="26.10" height="37.30" viewBox="0 0 26.10 37.30"><polygon points="13.05,0 26.10,17.72 19.57,17.72 19.57,37.30 6.52,37.30 6.52,17.72 0,17.72" fill="#fb6a1c"/></svg>
<span class="t pct" style="left:396.06px;top:977px;font-size:37.6px;transform:scaleX(1.1209);-webkit-text-stroke-width:0.9px">+405%</span>
</div>
</section>
<section class="chart" id="bran-starch">
<svg class="icon" style="left:625px;top:905px" width="100" height="130" viewBox="0 0 1080 1404" role="img" aria-label="висівки у банці"><g fill="#fff" stroke="#333e5e" stroke-width="12.5" stroke-linecap="round" stroke-linejoin="round"><path d="M245,300 C270,330 265,352 240,375 C180,410 160,440 160,480 L160,1120 C165,1165 200,1180 235,1190 C240,1240 300,1262 510,1262 C720,1262 790,1240 795,1190 C830,1180 860,1160 862,1120 L862,480 C860,430 830,400 790,375 C760,350 760,330 775,300Z"/><path fill="none" d="M235,420 C210,440 203,460 203,490 L203,1100 C205,1140 240,1160 290,1170 C400,1185 620,1185 730,1170 C790,1160 822,1140 825,1100 L825,580"/><path fill="none" d="M285,1195 C400,1225 620,1225 745,1195"/><path fill="none" d="M270,320 C400,345 620,345 750,320"/><path fill="none" d="M205,610 C350,555 600,505 790,535 C815,540 830,555 830,570 C820,620 700,660 500,660 C380,660 270,650 205,635"/><path d="M228,215 C228,175 350,160 510,160 C670,160 795,175 795,215 L795,275 C795,300 780,305 750,305 C600,320 420,320 270,305 C240,305 228,300 228,275Z"/><path fill="none" d="M232,215 C300,250 720,250 792,215"/></g><g fill="#333e5e"><circle cx="290" cy="610" r="9"/><circle cx="395" cy="590" r="9"/><circle cx="510" cy="570" r="9"/><circle cx="630" cy="562" r="9"/><circle cx="720" cy="565" r="9"/><circle cx="360" cy="627" r="9"/><circle cx="455" cy="625" r="9"/><circle cx="555" cy="607" r="9"/><circle cx="650" cy="610" r="9"/><circle cx="760" cy="662" r="9"/><circle cx="475" cy="700" r="9"/><circle cx="705" cy="712" r="9"/><circle cx="287" cy="742" r="9"/><circle cx="570" cy="742" r="9"/><circle cx="775" cy="742" r="9"/><circle cx="450" cy="780" r="9"/><circle cx="607" cy="810" r="9"/><circle cx="752" cy="825" r="9"/><circle cx="370" cy="832" r="9"/><circle cx="517" cy="850" r="9"/><circle cx="257" cy="858" r="9"/><circle cx="640" cy="910" r="9"/><circle cx="765" cy="908" r="9"/><circle cx="550" cy="930" r="9"/><circle cx="245" cy="955" r="9"/><circle cx="425" cy="960" r="9"/><circle cx="727" cy="988" r="9"/><circle cx="315" cy="1003" r="9"/><circle cx="552" cy="1015" r="9"/><circle cx="752" cy="1060" r="9"/><circle cx="387" cy="1065" r="9"/><circle cx="610" cy="1082" r="9"/><circle cx="280" cy="1110" r="9"/><circle cx="702" cy="1118" r="9"/><circle cx="492" cy="1138" r="9"/></g></svg>
<div class="plot">
<div class="bar" style="left:739.00px;top:885.70px;width:47.00px;height:108.60px"></div>
<div class="bar" style="left:812.30px;top:885.70px;width:47.00px;height:108.60px"></div>
<div class="axis" style="left:733.30px;top:993.80px;width:138.40px"></div>
<span class="t yr" style="left:747.12px;top:1007px;font-size:13.4px;transform:scaleX(1.0300)">2021</span>
<span class="t yr" style="left:820.39px;top:1007px;font-size:13.4px;transform:scaleX(1.0300)">2025</span>
</div>
<p class="label">
<span class="t lbl" style="left:726.61px;top:1036px;font-size:20.1px;transform:scaleX(1.1000);letter-spacing:0.460px;-webkit-text-stroke-width:0.15px">Висівки (вміст</span>
<span class="t lbl" style="left:726.94px;top:1056px;font-size:20.1px;transform:scaleX(1.1000);letter-spacing:-0.336px;-webkit-text-stroke-width:0.15px">крохмалю &lt; 28 / 35%)</span>
</p>
<aside class="note"><span class="t note-t" style="left:884.06px;top:879px;font-size:17.4px;transform:scaleX(1.0800);letter-spacing:0.457px;-webkit-text-stroke-width:0.5px">лібералізовано</span><svg class="bang" style="left:980.00px;top:894.40px" width="65" height="130" viewBox="0 0 718 1435" role="img" aria-label="!"><g fill="#f3702b" fill-rule="evenodd"><path d="M125,128 C250,100 450,95 600,108 L606,135 C600,300 572,500 546,700 C531,820 516,920 503,1000 C460,1030 400,1036 345,1028 C318,1008 290,960 272,900 C240,770 200,600 176,430 C165,330 160,240 150,168Z M238,166 C330,156 430,153 520,159 C506,400 476,700 438,985 L356,992 C312,800 266,500 238,166Z"/><path d="M590,42 L603,38 L609,120 L596,124Z"/><path d="M390,1140 C480,1140 545,1185 545,1235 C545,1285 470,1318 385,1318 C300,1318 245,1280 245,1228 C245,1178 305,1140 390,1140Z M395,1178 C345,1178 310,1198 310,1225 C310,1255 350,1278 400,1278 C450,1278 490,1258 490,1230 C490,1200 448,1178 395,1178Z"/></g></svg></aside>
</section>
<svg class="dash" style="left:0;top:1084.40px" width="1080" height="4" viewBox="0 0 1080 4"><line x1="101.7" y1="2" x2="974" y2="2" stroke="#c9c9c9" stroke-width="1.1" stroke-dasharray="8 5.55"/></svg>
<section class="chart" id="processed">
<svg class="icon" style="left:330px;top:1180px" width="120" height="110" viewBox="0 0 1080 990" role="img" aria-label="каша"><g fill="#fff" stroke="#2b3759" stroke-width="11.5" stroke-linecap="round" stroke-linejoin="round"><path d="M95,478 C95,425 250,395 540,395 C830,395 985,425 985,478"/><path fill="none" d="M132,470 C140,435 280,418 540,418 C800,418 940,435 948,470"/><path d="M185,495 C190,470 215,455 232,440 C225,410 240,385 275,375 C290,345 310,320 345,300 C365,280 375,260 400,250 C420,225 445,215 470,210 C490,185 520,172 545,176 C575,172 600,182 615,200 C640,205 660,220 670,240 C700,245 715,265 720,285 C750,290 770,310 775,335 C805,345 820,365 825,385 C855,395 870,420 868,445 C890,460 905,480 905,495 L905,560 L185,560Z"/></g><g fill="#fff" stroke="#2b3759" stroke-width="9"><ellipse cx="432" cy="307" rx="32" ry="18" fill="#fff" transform="rotate(-25 432 307)"/><ellipse cx="545" cy="262" rx="38" ry="22" fill="#8f99b6" transform="rotate(55 545 262)"/><ellipse cx="342" cy="372" rx="38" ry="24" fill="#8f99b6" transform="rotate(-70 342 372)"/><ellipse cx="440" cy="422" rx="38" ry="20" fill="#fff" transform="rotate(-40 440 422)"/><ellipse cx="555" cy="385" rx="38" ry="22" fill="#8f99b6" transform="rotate(55 555 385)"/><ellipse cx="652" cy="357" rx="36" ry="20" fill="#fff" transform="rotate(-65 652 357)"/><ellipse cx="740" cy="408" rx="36" ry="20" fill="#fff" transform="rotate(-25 740 408)"/><ellipse cx="290" cy="465" rx="36" ry="20" fill="#fff" transform="rotate(50 290 465)"/><ellipse cx="522" cy="482" rx="36" ry="20" fill="#fff" transform="rotate(35 522 482)"/><ellipse cx="660" cy="490" rx="36" ry="20" fill="#fff" transform="rotate(-30 660 490)"/><ellipse cx="835" cy="445" rx="36" ry="20" fill="#fff" transform="rotate(55 835 445)"/></g><g fill="#c9a86a"><circle cx="475" cy="250" r="6"/><circle cx="625" cy="272" r="6"/><circle cx="500" cy="325" r="6"/><circle cx="400" cy="368" r="6"/><circle cx="725" cy="322" r="6"/><circle cx="625" cy="432" r="6"/><circle cx="395" cy="495" r="6"/><circle cx="760" cy="495" r="6"/></g><g fill="#fff" stroke="#2b3759" stroke-width="11.5" stroke-linecap="round" stroke-linejoin="round"><path d="M352,775 C352,800 360,815 380,822 C470,845 610,845 700,822 C720,815 728,800 728,775Z"/><path d="M132,470 C170,520 340,545 540,545 C740,545 910,520 948,470 L985,478 C960,640 860,740 725,782 C610,805 470,805 355,782 C220,740 120,640 95,478Z"/><path fill="none" d="M95,478 C130,540 330,572 540,572 C750,572 950,540 985,478"/><path fill="none" d="M195,630 C230,690 300,735 380,757"/></g></svg>
<div class="plot">
<div class="bar" style="left:468.60px;top:1168.90px;width:46.10px;height:72.50px"></div>
<div class="bar" style="left:540.40px;top:1132.80px;width:45.90px;height:108.60px"></div>
<span class="t val" style="left:486.37px;top:1176px;font-size:15.8px;transform:scaleX(1.2271);-webkit-text-stroke-width:0.5px">2</span>
<span class="t val" style="left:559.26px;top:1139px;font-size:16.0px;transform:scaleX(1.2125);-webkit-text-stroke-width:0.5px">3</span>
<div class="axis" style="left:464.40px;top:1240.90px;width:134.40px"></div>
<span class="t yr" style="left:476.27px;top:1254px;font-size:13.4px;transform:scaleX(1.0300)">2021</span>
<span class="t yr" style="left:547.94px;top:1254px;font-size:13.4px;transform:scaleX(1.0300)">2025</span>
</div>
<p class="label">
<span class="t lbl" style="left:454.24px;top:1281px;font-size:19.2px;transform:scaleX(1.1000);letter-spacing:1.133px;-webkit-text-stroke-width:0.15px">Зернові перероблені</span>
<span class="t lbl" style="left:453.50px;top:1300px;font-size:19.2px;transform:scaleX(1.1000);letter-spacing:1.503px;-webkit-text-stroke-width:0.15px">продукти</span>
</p>
<div class="growth">
<svg class="arrow" style="left:607.60px;top:1215.40px" width="26.40" height="37.20" viewBox="0 0 26.40 37.20"><polygon points="13.20,0 26.40,17.67 19.80,17.67 19.80,37.20 6.60,37.20 6.60,17.67 0,17.67" fill="#fb6a1c"/></svg>
<span class="t pct" style="left:637.72px;top:1220px;font-size:37.9px;transform:scaleX(1.0737);-webkit-text-stroke-width:0.9px">+67%</span>
</div>
</section>
</main>
<footer>
<p class="t foot1" style="left:17.83px;top:1366px;font-size:16.1px;transform:scaleX(1.1500);letter-spacing:0.876px;-webkit-text-stroke-width:0.4px">%, - зростання порівняно з 2021 до 2025 року</p>
<div class="rule" style="left:0.00px;top:1385.20px;width:868.00px;height:2.20px;"></div>
<div class="rule" style="left:1035.50px;top:1385.20px;width:44.50px;height:2.20px;"></div>
<p class="t foot2" style="left:17.90px;top:1396px;font-size:18.3px;transform:scaleX(1.1200);letter-spacing:0.362px">Дані: Єврокомісія, розрахунки УКАБ</p>
<div class="logo"><span class="t logo-t" style="left:876.88px;top:1353px;font-size:62.0px;transform:scaleX(1.0278);-webkit-text-stroke-width:1.0px">ucab</span><i class="logo-dot" style="left:976.2px;top:1394.6px;width:10.3px;height:10.2px"></i></div>
</footer>
</div>
</body>
</html>
